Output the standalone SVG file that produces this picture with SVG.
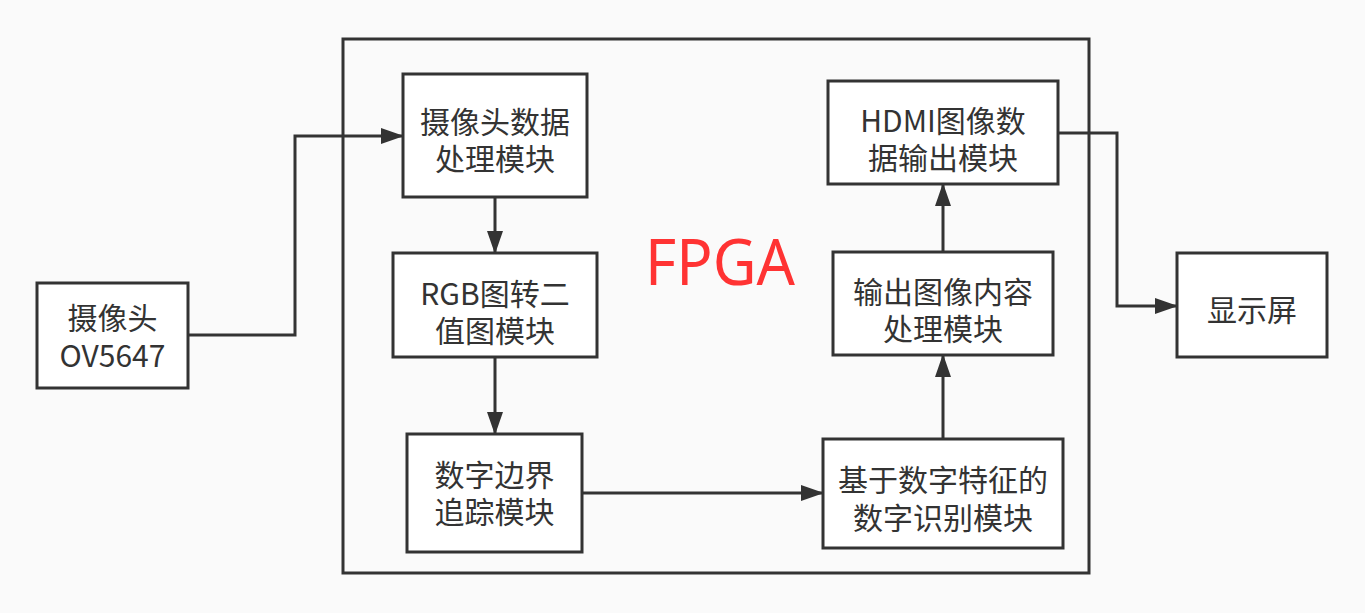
<svg xmlns="http://www.w3.org/2000/svg" width="1365" height="613" viewBox="0 0 1365 613">
<defs>
<style>
.box{fill:#ffffff;stroke:#333333;stroke-width:3}
.frame{fill:none;stroke:#333333;stroke-width:3}
.t{font-family:"Noto Sans CJK SC","Noto Sans",sans-serif;font-size:30px;fill:#333333;text-anchor:middle}
.edge{fill:none;stroke:#333333;stroke-width:3;marker-end:url(#arr)}
</style>
<marker id="arr" markerUnits="userSpaceOnUse" viewBox="0 0 23 16" refX="22" refY="8" markerWidth="23" markerHeight="16" orient="auto">
<path d="M0,0 L23,8 L0,16 z" fill="#333333"/>
</marker>
</defs>
<rect width="1365" height="613" fill="#fafafa"/>
<g id="fpga">
<rect class="frame" x="343" y="39" width="746" height="534"/>
<text x="720" y="285" font-family="'Noto Sans','Open Sans',sans-serif" font-size="64" fill="#ff3333" text-anchor="middle" textLength="150" lengthAdjust="spacingAndGlyphs">FPGA</text>
</g>
<g id="connectors">
<path class="edge" d="M188,335 H295 V136 H403"/>
<path class="edge" d="M495,197 V253"/>
<path class="edge" d="M495,357 V434"/>
<path class="edge" d="M582,493 H823"/>
<path class="edge" d="M943,439 V355"/>
<path class="edge" d="M943,252 V184"/>
<path class="edge" d="M1058,133 H1117 V306 H1177"/>
</g>
<g id="camera">
<rect class="box" x="37" y="283" width="151" height="105"/>
<text class="t"><tspan x="112.5" y="329">摄像头</tspan><tspan x="112.5" y="367">OV5647</tspan></text>
</g>
<g id="cam-proc">
<rect class="box" x="403" y="74" width="184" height="123"/>
<text class="t"><tspan x="495" y="133">摄像头数据</tspan><tspan x="495" y="170">处理模块</tspan></text>
</g>
<g id="rgb-bin">
<rect class="box" x="393" y="253" width="204" height="104"/>
<text class="t"><tspan x="495" y="305">RGB图转二</tspan><tspan x="495" y="342">值图模块</tspan></text>
</g>
<g id="edge-track">
<rect class="box" x="407" y="434" width="175" height="118"/>
<text class="t"><tspan x="494.5" y="486">数字边界</tspan><tspan x="494.5" y="523">追踪模块</tspan></text>
</g>
<g id="recog">
<rect class="box" x="823" y="439" width="240" height="109"/>
<text class="t"><tspan x="943" y="491">基于数字特征的</tspan><tspan x="943" y="529">数字识别模块</tspan></text>
</g>
<g id="out-proc">
<rect class="box" x="833" y="252" width="220" height="103"/>
<text class="t"><tspan x="943" y="303">输出图像内容</tspan><tspan x="943" y="340">处理模块</tspan></text>
</g>
<g id="hdmi">
<rect class="box" x="828" y="81" width="230" height="103"/>
<text class="t"><tspan x="943" y="132">HDMI图像数</tspan><tspan x="943" y="169">据输出模块</tspan></text>
</g>
<g id="display">
<rect class="box" x="1177" y="253" width="150" height="104"/>
<text class="t" x="1252" y="321">显示屏</text>
</g>
</svg>
